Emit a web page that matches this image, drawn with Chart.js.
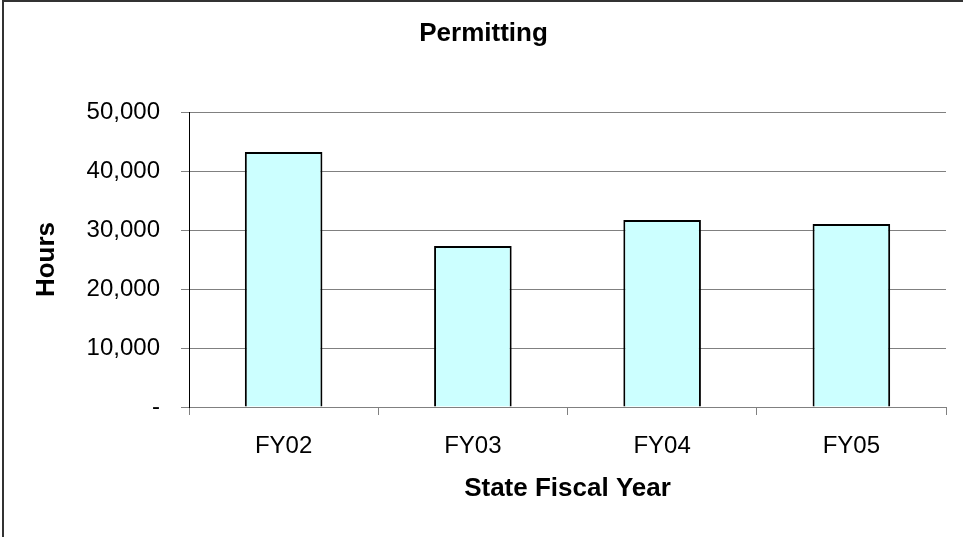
<!DOCTYPE html>
<html>
<head>
<meta charset="utf-8">
<title>Permitting</title>
<script src="https://cdn.jsdelivr.net/npm/chart.js@4/dist/chart.umd.min.js"></script>
<style>
  body { margin: 0; background: #fff; }
  #wrap { width: 963px; height: 537px; }
</style>
</head>
<body>
<div id="wrap"><canvas id="hoursChart" width="963" height="537"></canvas></div>
<script>
const years = ['FY02', 'FY03', 'FY04', 'FY05'];
const hours = [43200, 27300, 31700, 31000];
const yTicks = [0, 10000, 20000, 30000, 40000, 50000];

const FONT = "'Liberation Sans', Arial, sans-serif";

// frame around the whole chart (only left and top edges fall inside the canvas)
const frame = {
    id: 'frame',
    afterDraw(chart) {
        const ctx = chart.ctx;
        ctx.save();
        ctx.strokeStyle = '#333333';
        ctx.lineWidth = 2;
        ctx.strokeRect(3, 1, chart.width + 10, chart.height + 10);
        ctx.restore();
    }
};

const ctx = document.getElementById('hoursChart').getContext('2d');
window.hoursChart = new Chart(ctx, {
    type: 'bar',
    data: {
        labels: years,
        datasets: [{
            data: hours,
            backgroundColor: '#CCFFFF',
            borderColor: '#000000',
            borderWidth: 2,
            categoryPercentage: 1,
            barPercentage: 0.41
        }]
    },
    options: {
        responsive: false,
        animation: false,
        layout: { padding: { left: 21, right: 17, top: 0, bottom: 0 } },
        plugins: {
            legend: { display: false },
            tooltip: { enabled: false },
            title: {
                display: true,
                text: 'Permitting',
                color: '#000',
                font: { family: FONT, size: 26, weight: 'bold', lineHeight: 1.2 },
                padding: { top: 18.5, bottom: 62.3 }
            }
        },
        scales: {
            x: {
                afterFit: s => { s.height = 130; },
                grid: {
                    offset: true,
                    drawOnChartArea: false,
                    drawTicks: true,
                    tickLength: 8,
                    color: '#808080'
                },
                border: { display: true, color: '#808080', width: 1 },
                ticks: {
                    color: '#000',
                    padding: 17,
                    font: { family: FONT, size: 24 }
                },
                title: {
                    display: true,
                    text: 'State Fiscal Year',
                    color: '#000',
                    font: { family: FONT, size: 26, weight: 'bold', lineHeight: 1.2 },
                    padding: { top: 0, bottom: 32.4 }
                }
            },
            y: {
                min: 0,
                max: 50000,
                afterFit: s => { s.width = 168; },
                afterBuildTicks: s => { s.ticks = yTicks.map(v => ({ value: v })); },
                grid: {
                    color: '#808080',
                    tickLength: 8,
                    drawTicks: true
                },
                border: { display: true, color: '#000', width: 1 },
                ticks: {
                    color: '#000',
                    padding: 21,
                    font: { family: FONT, size: 24 },
                    callback: v => v === 0 ? '-' : v.toLocaleString('en-US')
                },
                title: {
                    display: true,
                    text: 'Hours',
                    color: '#000',
                    font: { family: FONT, size: 26, weight: 'bold', lineHeight: 1.2 },
                    padding: { top: 10, bottom: 0 }
                }
            }
        }
    },
    plugins: [frame]
});
</script>
</body>
</html>
